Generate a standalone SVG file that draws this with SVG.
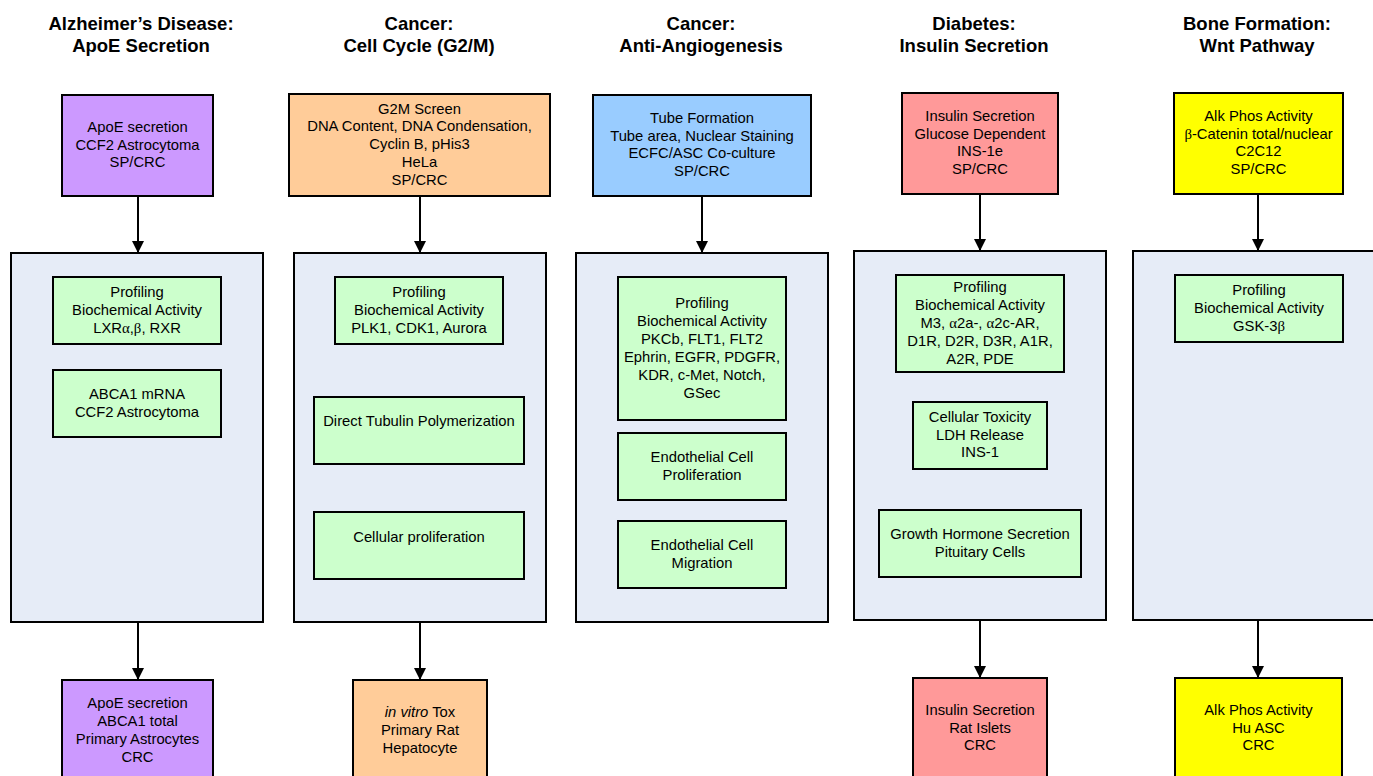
<svg xmlns="http://www.w3.org/2000/svg" width="1373" height="776" viewBox="0 0 1373 776">
<style>
.t{font-family:"Liberation Sans",Arial,sans-serif;font-size:18.5px;font-weight:bold;text-anchor:middle;fill:#000}
.b{font-family:"Liberation Sans",Arial,sans-serif;font-size:14.8px;text-anchor:middle;fill:#000}
.g{font-family:"Liberation Serif","Times New Roman",serif}
rect.n{stroke:#000;stroke-width:2}
.pu{fill:#CC99FF}.or{fill:#FFCC99}.bl{fill:#99CCFF}.pk{fill:#FF9999}.ye{fill:#FFFF00}
.gr{fill:#CCFFCC}.bg{fill:#E6ECF7}
.c{stroke:#000;stroke-width:2;fill:none;marker-end:url(#ah)}
</style>
<defs>
<marker id="ah" markerWidth="12" markerHeight="12" refX="12" refY="6" orient="auto" markerUnits="userSpaceOnUse">
<path d="M0,0 L12,6 L0,12 Z" fill="#000"/>
</marker>
</defs>
<rect x="0" y="0" width="1373" height="776" fill="#fff"/>

<g id="titles">
<text class="t" x="141" y="30">Alzheimer’s Disease:</text>
<text class="t" x="141" y="52">ApoE Secretion</text>
<text class="t" x="419" y="30">Cancer:</text>
<text class="t" x="419" y="52">Cell Cycle (G2/M)</text>
<text class="t" x="701" y="30">Cancer:</text>
<text class="t" x="701" y="52">Anti-Angiogenesis</text>
<text class="t" x="974" y="30">Diabetes:</text>
<text class="t" x="974" y="52">Insulin Secretion</text>
<text class="t" x="1257" y="30">Bone Formation:</text>
<text class="t" x="1257" y="52">Wnt Pathway</text>
</g>

<g id="connectors">
<line class="c" x1="138" y1="196" x2="138" y2="253"/>
<line class="c" x1="138" y1="622" x2="138" y2="680"/>
<line class="c" x1="420" y1="196" x2="420" y2="253"/>
<line class="c" x1="420" y1="622" x2="420" y2="680"/>
<line class="c" x1="702" y1="196" x2="702" y2="253"/>
<line class="c" x1="980" y1="194" x2="980" y2="251"/>
<line class="c" x1="980" y1="620" x2="980" y2="678"/>
<line class="c" x1="1258" y1="194" x2="1258" y2="251"/>
<line class="c" x1="1258" y1="620" x2="1258" y2="678"/>
</g>

<!-- Column 1 -->
<g id="c1-top">
<rect class="n pu" x="62" y="95" width="151" height="101"/>
<text class="b" x="137.5" y="132">ApoE secretion</text>
<text class="b" x="137.5" y="149.5">CCF2 Astrocytoma</text>
<text class="b" x="137.5" y="167">SP/CRC</text>
</g>
<g id="c1-panel"><rect class="n bg" x="11" y="253" width="252" height="369"/></g>
<g id="c1-prof">
<rect class="n gr" x="53" y="277" width="168" height="67"/>
<text class="b" x="137" y="297">Profiling</text>
<text class="b" x="137" y="315">Biochemical Activity</text>
<text class="b" x="137" y="333">LXR<tspan class="g">α</tspan>,<tspan class="g">β</tspan>, RXR</text>
</g>
<g id="c1-abca">
<rect class="n gr" x="53" y="370" width="168" height="67"/>
<text class="b" x="137" y="398.5">ABCA1 mRNA</text>
<text class="b" x="137" y="416.5">CCF2 Astrocytoma</text>
</g>
<g id="c1-bottom">
<rect class="n pu" x="62" y="680" width="151" height="110"/>
<text class="b" x="137.5" y="708">ApoE secretion</text>
<text class="b" x="137.5" y="726">ABCA1 total</text>
<text class="b" x="137.5" y="744">Primary Astrocytes</text>
<text class="b" x="137.5" y="761.5">CRC</text>
</g>

<!-- Column 2 -->
<g id="c2-top">
<rect class="n or" x="289" y="94" width="261" height="102"/>
<text class="b" x="419.5" y="113.5">G2M Screen</text>
<text class="b" x="419.5" y="131.3">DNA Content, DNA Condensation,</text>
<text class="b" x="419.5" y="149.1">Cyclin B, pHis3</text>
<text class="b" x="419.5" y="166.9">HeLa</text>
<text class="b" x="419.5" y="184.7">SP/CRC</text>
</g>
<g id="c2-panel"><rect class="n bg" x="294" y="253" width="252" height="369"/></g>
<g id="c2-prof">
<rect class="n gr" x="335" y="277" width="168" height="67"/>
<text class="b" x="419" y="297">Profiling</text>
<text class="b" x="419" y="315">Biochemical Activity</text>
<text class="b" x="419" y="333">PLK1, CDK1, Aurora</text>
</g>
<g id="c2-tub">
<rect class="n gr" x="314" y="397" width="210" height="67"/>
<text class="b" x="419" y="425.5">Direct Tubulin Polymerization</text>
</g>
<g id="c2-prolif">
<rect class="n gr" x="314" y="512" width="210" height="67"/>
<text class="b" x="419" y="541.5">Cellular proliferation</text>
</g>
<g id="c2-bottom">
<rect class="n or" x="353" y="680" width="134" height="110"/>
<text class="b" x="420" y="717"><tspan font-style="italic">in vitro</tspan> Tox</text>
<text class="b" x="420" y="735">Primary Rat</text>
<text class="b" x="420" y="753">Hepatocyte</text>
</g>

<!-- Column 3 -->
<g id="c3-top">
<rect class="n bl" x="593" y="95" width="218" height="101"/>
<text class="b" x="702" y="123">Tube Formation</text>
<text class="b" x="702" y="140.5">Tube area, Nuclear Staining</text>
<text class="b" x="702" y="158.3">ECFC/ASC Co-culture</text>
<text class="b" x="702" y="176">SP/CRC</text>
</g>
<g id="c3-panel"><rect class="n bg" x="576" y="253" width="252" height="369"/></g>
<g id="c3-prof">
<rect class="n gr" x="618" y="277" width="168" height="143"/>
<text class="b" x="702" y="308">Profiling</text>
<text class="b" x="702" y="326">Biochemical Activity</text>
<text class="b" x="702" y="344">PKCb, FLT1, FLT2</text>
<text class="b" x="702" y="362">Ephrin, EGFR, PDGFR,</text>
<text class="b" x="702" y="380">KDR, c-Met, Notch,</text>
<text class="b" x="702" y="398">GSec</text>
</g>
<g id="c3-ecprolif">
<rect class="n gr" x="618" y="433" width="168" height="67"/>
<text class="b" x="702" y="462">Endothelial Cell</text>
<text class="b" x="702" y="480">Proliferation</text>
</g>
<g id="c3-ecmig">
<rect class="n gr" x="618" y="521" width="168" height="67"/>
<text class="b" x="702" y="550">Endothelial Cell</text>
<text class="b" x="702" y="568">Migration</text>
</g>

<!-- Column 4 -->
<g id="c4-top">
<rect class="n pk" x="902" y="93" width="156" height="101"/>
<text class="b" x="980" y="121">Insulin Secretion</text>
<text class="b" x="980" y="138.5">Glucose Dependent</text>
<text class="b" x="980" y="156">INS-1e</text>
<text class="b" x="980" y="174">SP/CRC</text>
</g>
<g id="c4-panel"><rect class="n bg" x="854" y="251" width="252" height="369"/></g>
<g id="c4-prof">
<rect class="n gr" x="896" y="275" width="168" height="97"/>
<text class="b" x="980" y="292">Profiling</text>
<text class="b" x="980" y="310">Biochemical Activity</text>
<text class="b" x="980" y="328">M3, <tspan class="g">α</tspan>2a-, <tspan class="g">α</tspan>2c-AR,</text>
<text class="b" x="980" y="346">D1R, D2R, D3R, A1R,</text>
<text class="b" x="980" y="364">A2R, PDE</text>
</g>
<g id="c4-tox">
<rect class="n gr" x="913" y="402" width="134" height="67"/>
<text class="b" x="980" y="421.5">Cellular Toxicity</text>
<text class="b" x="980" y="439.5">LDH Release</text>
<text class="b" x="980" y="457">INS-1</text>
</g>
<g id="c4-gh">
<rect class="n gr" x="879" y="510" width="202" height="67"/>
<text class="b" x="980" y="539">Growth Hormone Secretion</text>
<text class="b" x="980" y="557">Pituitary Cells</text>
</g>
<g id="c4-bottom">
<rect class="n pk" x="913" y="678" width="134" height="110"/>
<text class="b" x="980" y="715">Insulin Secretion</text>
<text class="b" x="980" y="733">Rat Islets</text>
<text class="b" x="980" y="750">CRC</text>
</g>

<!-- Column 5 -->
<g id="c5-top">
<rect class="n ye" x="1174" y="93" width="169" height="101"/>
<text class="b" x="1258.5" y="121">Alk Phos Activity</text>
<text class="b" x="1258.5" y="138.5"><tspan class="g">β</tspan>-Catenin total/nuclear</text>
<text class="b" x="1258.5" y="156">C2C12</text>
<text class="b" x="1258.5" y="174">SP/CRC</text>
</g>
<g id="c5-panel"><rect class="n bg" x="1133" y="251" width="262" height="369"/></g>
<g id="c5-prof">
<rect class="n gr" x="1175" y="275" width="168" height="67"/>
<text class="b" x="1259" y="295">Profiling</text>
<text class="b" x="1259" y="313">Biochemical Activity</text>
<text class="b" x="1259" y="331">GSK-3<tspan class="g">β</tspan></text>
</g>
<g id="c5-bottom">
<rect class="n ye" x="1175" y="678" width="167" height="110"/>
<text class="b" x="1258.5" y="715">Alk Phos Activity</text>
<text class="b" x="1258.5" y="733">Hu ASC</text>
<text class="b" x="1258.5" y="750">CRC</text>
</g>
</svg>
